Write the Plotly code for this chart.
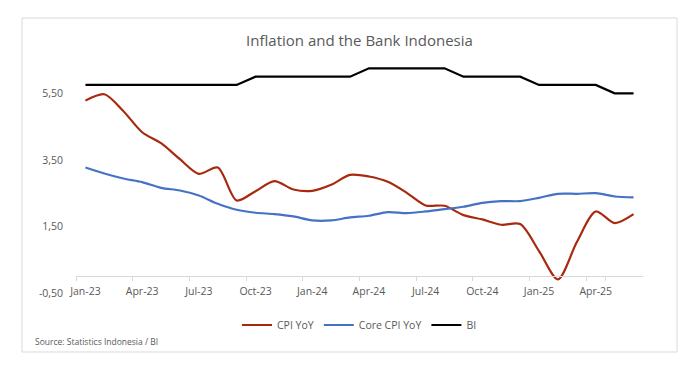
import plotly.graph_objects as go

months = ["Jan-23","Feb-23","Mar-23","Apr-23","May-23","Jun-23","Jul-23","Aug-23","Sep-23","Oct-23","Nov-23","Dec-23",
          "Jan-24","Feb-24","Mar-24","Apr-24","May-24","Jun-24","Jul-24","Aug-24","Sep-24","Oct-24","Nov-24","Dec-24",
          "Jan-25","Feb-25","Mar-25","Apr-25","May-25","Jun-25"]
cpi_yoy = [5.28, 5.47, 4.97, 4.33, 4.00, 3.52, 3.08, 3.27, 2.28, 2.56, 2.86, 2.61,
           2.57, 2.75, 3.05, 3.00, 2.84, 2.51, 2.13, 2.12, 1.84, 1.71, 1.55, 1.57,
           0.76, -0.09, 1.03, 1.95, 1.60, 1.87]
core_cpi_yoy = [3.27, 3.09, 2.94, 2.83, 2.66, 2.58, 2.43, 2.18, 2.00, 1.91, 1.87, 1.80,
                1.68, 1.68, 1.77, 1.82, 1.93, 1.90, 1.95, 2.02, 2.09, 2.21, 2.26, 2.26,
                2.36, 2.48, 2.48, 2.50, 2.40, 2.37]
bi_rate = [5.75, 5.75, 5.75, 5.75, 5.75, 5.75, 5.75, 5.75, 5.75, 6.00, 6.00, 6.00,
           6.00, 6.00, 6.00, 6.25, 6.25, 6.25, 6.25, 6.25, 6.00, 6.00, 6.00, 6.00,
           5.75, 5.75, 5.75, 5.75, 5.50, 5.50]
y_ticks = [-0.5, 1.5, 3.5, 5.5]
y_tick_labels = ["-0,50", "1,50", "3,50", "5,50"]
x_tick_labels = months[::3]

FONT = "Open Sans"
GREY = "#595959"

fig = go.Figure()
fig.add_trace(go.Scatter(x=months, y=cpi_yoy, name="CPI YoY", mode="lines",
                         line=dict(color="#A9290F", width=2.2, shape="spline", smoothing=0.8)))
fig.add_trace(go.Scatter(x=months, y=core_cpi_yoy, name="Core CPI YoY", mode="lines",
                         line=dict(color="#4472C4", width=2.2, shape="spline", smoothing=0.8)))
fig.add_trace(go.Scatter(x=months, y=bi_rate, name="BI", mode="lines",
                         line=dict(color="#000000", width=2.2)))

ymin, ymax = -0.5, 6.5
zero_pos = (0 - ymin) / (ymax - ymin)

fig.update_layout(
    width=700, height=376,
    margin=dict(l=76, r=57, t=60, b=83, autoexpand=False),
    paper_bgcolor="white", plot_bgcolor="white",
    font=dict(family=FONT, size=10.5, color=GREY),
    title=dict(text="Inflation and the Bank Indonesia", x=0.5, xref="paper", y=1 - 41/376,
               yanchor="middle", xanchor="center", font=dict(size=15, color=GREY, family=FONT)),
    showlegend=True,
    legend=dict(orientation="h", x=0.5, xanchor="center", xref="paper", y=(293 - 325) / 233, yanchor="middle",
                font=dict(size=10.5, color=GREY), itemwidth=30, tracegroupgap=0),
    xaxis=dict(type="category", categoryarray=months, range=[-0.5, 29.5],
               tickmode="array", tickvals=x_tick_labels, ticktext=x_tick_labels,
               tickson="boundaries", ticks="outside", ticklen=4, tickcolor="#d9d9d9",
               showline=True, linecolor="#d9d9d9", linewidth=1, showgrid=False,
               anchor="free", position=zero_pos, ticklabelstandoff=5, tickangle=0,
               automargin=False, tickfont=dict(size=10.5, color=GREY)),
    yaxis=dict(range=[ymin, ymax], tickmode="array", tickvals=y_ticks, ticktext=y_tick_labels,
               showgrid=False, zeroline=False, showline=False, ticks="", automargin=False,
               ticklabelstandoff=12, tickfont=dict(size=10.5, color=GREY)),
)

fig.add_shape(type="rect", xref="paper", yref="paper",
              x0=(22 - 76) / 567, x1=(677 - 76) / 567,
              y0=(293 - 352) / 233, y1=(293 - 18) / 233,
              line=dict(color="#d9d9d9", width=1), fillcolor="rgba(0,0,0,0)", layer="below")
fig.add_annotation(text="Source: Statistics Indonesia / BI", xref="paper", yref="paper",
                   x=(33 - 76) / 567, y=(293 - 341) / 233, xanchor="left", yanchor="middle",
                   showarrow=False, font=dict(size=8.5, color=GREY, family=FONT))

fig.write_html("out.html", config={"displayModeBar": False},
               post_script="document.body.style.margin='0';")
